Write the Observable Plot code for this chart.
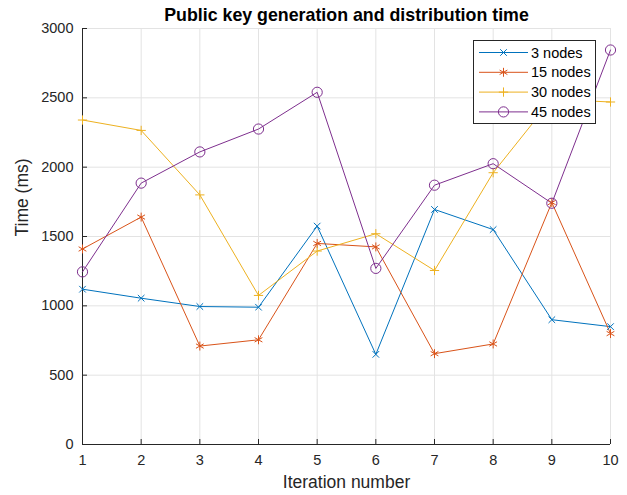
<!DOCTYPE html>
<html><head><meta charset="utf-8">
<script src="https://cdn.jsdelivr.net/npm/d3@7"></script>
<script src="https://cdn.jsdelivr.net/npm/@observablehq/plot@0.6"></script>
<style>
body{margin:0;background:#fff;font-family:"Liberation Sans",Arial,sans-serif;}
#wrap{position:relative;width:627px;height:495px;}
#legend{position:absolute;left:473px;top:40px;}
</style></head><body><div id="wrap"></div>
<script>
const iterations = [1, 2, 3, 4, 5, 6, 7, 8, 9, 10];
const nodes3  = [1120, 1055, 995, 990, 1575, 650, 1695, 1550, 900, 850];
const nodes15 = [1410, 1640, 710, 755, 1450, 1425, 655, 725, 1745, 800];
const nodes30 = [2340, 2265, 1800, 1075, 1395, 1520, 1255, 1960, 2490, 2470];
const nodes45 = [1245, 1885, 2110, 2275, 2540, 1270, 1870, 2025, 1740, 2845];
const seriesNames = ["3 nodes", "15 nodes", "30 nodes", "45 nodes"];
const colors = ["#0072BD", "#D95319", "#EDB120", "#7E2F8E"];
const symbols = ["times", "asterisk", "plus", "circle"];
const xTicks = [1, 2, 3, 4, 5, 6, 7, 8, 9, 10];
const yTicks = [0, 500, 1000, 1500, 2000, 2500, 3000];
const titleText = "Public key generation and distribution time";
const xLabel = "Iteration number";
const yLabel = "Time (ms)";

const seriesVals = [nodes3, nodes15, nodes30, nodes45];
const rows = [];
seriesVals.forEach((vals, s) => vals.forEach((v, i) => rows.push({series: seriesNames[s], x: iterations[i], y: v})));

// d3 symbol objects and their areas (marker size)
const symMap = {times: d3.symbolTimes, asterisk: d3.symbolAsterisk, plus: d3.symbolPlus, circle: d3.symbolCircle};
const symArea = {times: 30, asterisk: 56, plus: 30, circle: 82};

const ink = "#262626";
const grid = "#e3e3e3";
const font = "'Liberation Sans', Arial, sans-serif";

const plot = Plot.plot({
  width: 627, height: 495,
  marginLeft: 82, marginRight: 17, marginTop: 28, marginBottom: 51,
  style: {fontFamily: font, fontSize: "14.5px", color: ink, background: "white", overflow: "visible"},
  x: {domain: [1, 10]},
  y: {domain: [0, 3000]},
  marks: [
    Plot.gridX(xTicks, {stroke: grid, strokeOpacity: 1}),
    Plot.gridY(yTicks, {stroke: grid, strokeOpacity: 1}),
    Plot.ruleX([1], {stroke: ink}),
    Plot.ruleY([0], {stroke: ink}),
    Plot.axisX(xTicks, {tickSize: -5, tickFormat: () => "", label: null, stroke: ink}),
    Plot.axisY(yTicks, {tickSize: -5, tickFormat: () => "", label: null, stroke: ink}),
    Plot.axisX(xTicks, {tickSize: 0, tickPadding: 10, label: null, fontSize: 14.5, fill: ink, tickFormat: d3.format("d")}),
    Plot.axisY(yTicks, {tickSize: 0, tickPadding: 9, label: null, fontSize: 14.5, fill: ink, tickFormat: d3.format("d")}),
    ...seriesNames.map((name, s) => Plot.line(rows.filter(d => d.series === name), {x: "x", y: "y", stroke: colors[s], strokeWidth: 1})),
    ...seriesNames.map((name, s) => Plot.dot(rows.filter(d => d.series === name), {
      x: "x", y: "y", stroke: colors[s], symbol: symMap[symbols[s]],
      r: Math.sqrt(symArea[symbols[s]] / Math.PI), strokeWidth: 1, fill: "none"
    })),
    Plot.text([titleText], {frameAnchor: "top", lineAnchor: "middle", dy: -13, fontWeight: "bold", fontSize: 17.8, fill: "black"}),
    Plot.text([xLabel], {frameAnchor: "bottom", lineAnchor: "middle", dy: 38, fontSize: 17.5, fill: ink}),
    Plot.text([yLabel], {frameAnchor: "left", lineAnchor: "middle", rotate: -90, dx: -60, fontSize: 17.5, fill: ink})
  ]
});
document.getElementById("wrap").appendChild(plot);

// Legend
const lw = 123, lh = 84, rowH = 19.8;
const leg = d3.select("#wrap").append("svg").attr("id", "legend")
  .attr("width", lw).attr("height", lh)
  .style("font-family", font).style("font-size", "14.5px");
leg.append("rect").attr("x", 0.5).attr("y", 0.5).attr("width", lw - 1).attr("height", lh - 1)
  .attr("fill", "white").attr("stroke", ink).attr("stroke-width", 1);
seriesNames.forEach((name, s) => {
  const cy = 12.5 + s * rowH;
  const g = leg.append("g");
  g.append("line").attr("x1", 6).attr("x2", 55).attr("y1", cy).attr("y2", cy).attr("stroke", colors[s]).attr("stroke-width", 1);
  g.append("path").attr("transform", `translate(30.5,${cy})`)
    .attr("d", d3.symbol(symMap[symbols[s]], symArea[symbols[s]])())
    .attr("fill", "none").attr("stroke", colors[s]).attr("stroke-width", 1);
  g.append("text").attr("x", 58).attr("y", cy).attr("dy", "0.35em").attr("fill", "black").text(name);
});
</script></body></html>
